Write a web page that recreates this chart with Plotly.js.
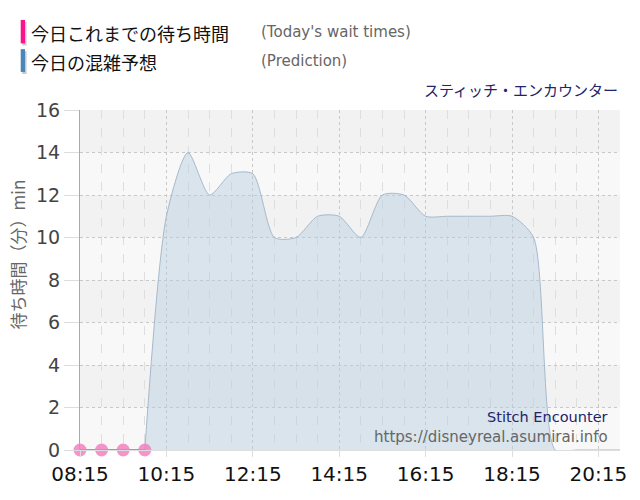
<!DOCTYPE html>
<html>
<head>
<meta charset="utf-8">
<script src="https://cdn.plot.ly/plotly-3.0.1.min.js"></script>
<style>
  body { margin: 0; background: #fff; }
  #chart { width: 640px; height: 500px; }
</style>
</head>
<body>
<div id="chart"></div>
<script>
// data ------------------------------------------------------------------
const day = "2000-01-01 ";

const waitTimes = ["08:15", "08:45", "09:15", "09:45"];
const waitValues = [0, 0, 0, 0];

const predTimes = ["09:45", "10:15", "10:45", "11:15", "11:45", "12:15", "12:45",
    "13:15", "13:45", "14:15", "14:45", "15:15", "15:45", "16:15", "16:45",
    "17:15", "17:45", "18:15", "18:45", "19:15", "19:45", "20:15", "20:45"];
const predValues = [0, 11, 14, 12, 13, 13, 10, 10, 11, 11, 10, 12, 12, 11, 11,
    11, 11, 11, 10, 0, 0, 0, 0];

const yTicks = [0, 2, 4, 6, 8, 10, 12, 14, 16];

const titleJa = "スティッチ・エンカウンター";
const titleEn = "Stitch Encounter";
const siteUrl = "https://disneyreal.asumirai.info";

// helpers ---------------------------------------------------------------
const toDate = t => day + t;
const jpFont = "'Noto Sans CJK JP', 'DejaVu Sans', sans-serif";
const latFont = "'DejaVu Sans', sans-serif";

// alternating background bands (every other tick step)
let shapes = [];
for (let i = 0; i < yTicks.length - 1; i++) {
    shapes.push({
        type: "rect", xref: "paper", yref: "y", layer: "below",
        x0: 0, x1: 1, y0: yTicks[i], y1: yTicks[i + 1],
        fillcolor: i % 2 ? "#f2f2f2" : "#f8f8f8", line: { width: 0 }
    });
}

// the little legend bars on top-left (with a faint shadow)
function legendBar(y0, y1, color) {
    shapes.push({
        type: "rect", xref: "paper", yref: "paper",
        x0: -0.1070, x1: -0.0990, y0: y0 - 0.006, y1: y1 - 0.006,
        fillcolor: "#c8c8c8", line: { width: 0 }
    });
    shapes.push({
        type: "rect", xref: "paper", yref: "paper",
        x0: -0.1098, x1: -0.1018, y0: y0, y1: y1,
        fillcolor: color, line: { width: 0 }
    });
}
legendBar(1.196, 1.265, "#f5168c");
legendBar(1.112, 1.179, "#4a86b8");

// traces ----------------------------------------------------------------
var data = [
    {
        x: predTimes.map(toDate), y: predValues,
        mode: "lines", type: "scatter",
        line: { shape: "spline", smoothing: 0.7, color: "rgba(160,180,200,0.9)", width: 1 },
        fill: "tozeroy", fillcolor: "rgba(180,205,225,0.45)",
        name: "今日の混雑予想"
    },
    {
        x: waitTimes.map(toDate), y: waitValues,
        mode: "lines+markers", type: "scatter",
        line: { color: "rgba(200,70,140,0.9)", width: 1.5 },
        marker: { size: 13, color: "rgba(245,120,190,0.8)" },
        cliponaxis: false,
        name: "今日これまでの待ち時間"
    }
];

var layout = {
    width: 640, height: 500,
    margin: { l: 80, r: 20, t: 110, b: 50 },
    paper_bgcolor: "#ffffff",
    plot_bgcolor: "#f8f8f8",
    showlegend: false,
    hovermode: false,
    xaxis: {
        type: "date",
        range: [toDate("08:15"), toDate("20:45")],
        tick0: toDate("08:15"), dtick: 2 * 3600 * 1000,
        tickformat: "%H:%M",
        tickfont: { family: latFont, size: 20, color: "#111" },
        ticks: "outside", ticklen: 6, tickcolor: "#ddd",
        showgrid: true, gridcolor: "#c8c8c8", griddash: "dot", gridwidth: 1,
        minor: { dtick: 30 * 60 * 1000, tick0: toDate("08:15"), showgrid: true,
                 gridcolor: "#dedede", griddash: "dash", gridwidth: 1 },
        showline: true, linecolor: "#ddd",
        zeroline: false, fixedrange: true
    },
    yaxis: {
        range: [0, 16],
        tickvals: yTicks,
        tickfont: { family: latFont, size: 19, color: "#444" },
        ticks: "outside", ticklen: 15, tickcolor: "#ddd",
        showgrid: true, gridcolor: "#c8c8c8", griddash: "dot", gridwidth: 1,
        showline: true, linecolor: "#aaa",
        zeroline: false, fixedrange: true
    },
    shapes: shapes,
    annotations: [
        { text: "今日これまでの待ち時間", xref: "paper", yref: "paper", x: -0.095, y: 1.226,
          xanchor: "left", yanchor: "middle", showarrow: false,
          font: { family: jpFont, size: 18, color: "#111" } },
        { text: "(Today's wait times)", xref: "paper", yref: "paper", x: 0.331, y: 1.229,
          xanchor: "left", yanchor: "middle", showarrow: false,
          font: { family: latFont, size: 15, color: "#666" } },
        { text: "今日の混雑予想", xref: "paper", yref: "paper", x: -0.095, y: 1.142,
          xanchor: "left", yanchor: "middle", showarrow: false,
          font: { family: jpFont, size: 18, color: "#111" } },
        { text: "(Prediction)", xref: "paper", yref: "paper", x: 0.331, y: 1.145,
          xanchor: "left", yanchor: "middle", showarrow: false,
          font: { family: latFont, size: 15, color: "#666" } },
        { text: titleJa, xref: "paper", yref: "paper", x: 1.0, y: 1.059,
          xanchor: "right", yanchor: "middle", showarrow: false,
          font: { family: jpFont, size: 15, color: "#23236b" } },
        { text: "待ち時間（分）min", xref: "paper", yref: "paper", x: -0.115, y: 0.575,
          xanchor: "center", yanchor: "middle", textangle: -90, showarrow: false,
          font: { family: jpFont, size: 17, color: "#666" } },
        { text: titleEn, xref: "paper", yref: "paper", x: 0.982, y: 0.098,
          xanchor: "right", yanchor: "middle", showarrow: false,
          font: { family: latFont, size: 14.5, color: "#23236b" } },
        { text: siteUrl, xref: "paper", yref: "paper", x: 0.982, y: 0.039,
          xanchor: "right", yanchor: "middle", showarrow: false,
          font: { family: latFont, size: 15, color: "#666" } }
    ]
};

Plotly.newPlot("chart", data, layout, { staticPlot: true, displayModeBar: false });
</script>
</body>
</html>
